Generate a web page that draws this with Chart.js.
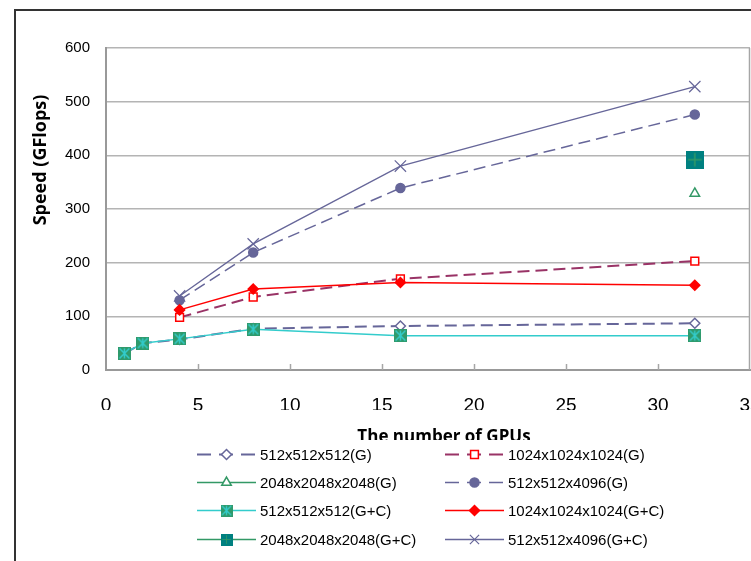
<!DOCTYPE html>
<html>
<head>
<meta charset="utf-8">
<script src="https://cdn.jsdelivr.net/npm/chart.js@4.4.1/dist/chart.umd.min.js"></script>
<style>
  html, body { margin: 0; padding: 0; background: #fff; overflow: hidden; }
  #wrap { width: 751px; height: 561px; position: relative; overflow: hidden; }
</style>
</head>
<body>
<div id="wrap"><canvas id="speedChart" width="770" height="561"></canvas></div>
<script>
// ---- data ----
const gpusAll = [1, 2, 4, 8, 16, 32];
const gpusFrom4 = [4, 8, 16, 32];
const gpusOnly32 = [32];

const speed512G = [31, 50, 57, 77, 82, 87];
const speed1024G = [98, 136, 170, 203];
const speed2048G = [329];
const speed4096G = [130, 219, 339, 476];
const speed512GC = [31, 50, 58, 76, 64, 64];
const speed1024GC = [112, 151, 163, 158];
const speed2048GC = [392];
const speed4096GC = [138, 235, 380, 528];

const seriesLabels = [
    '512x512x512(G)', '1024x1024x1024(G)',
    '2048x2048x2048(G)', '512x512x4096(G)',
    '512x512x512(G+C)', '1024x1024x1024(G+C)',
    '2048x2048x2048(G+C)', '512x512x4096(G+C)'
];
const xTicks = [0, 5, 10, 15, 20, 25, 30, 35];
const yTicks = [0, 100, 200, 300, 400, 500, 600];

const SLATE = '#666699', MAROON = '#993366', GREEN = '#339966',
      CYAN = '#33cccc', RED = '#ff0000', TEAL = '#008080';

// square marker with an asterisk / plus inside (Excel style)
function boxMarker(size, fill, mark, kind) {
    const c = document.createElement('canvas');
    c.width = size; c.height = size;
    const g = c.getContext('2d');
    g.fillStyle = fill;
    g.fillRect(0, 0, size, size);
    g.strokeStyle = mark;
    g.lineWidth = 1.5;
    const m = size / 2, r = size * 0.38;
    g.beginPath();
    g.moveTo(m, m - r); g.lineTo(m, m + r);
    if (kind === 'star') {
        g.moveTo(m - r, m - r); g.lineTo(m + r, m + r);
        g.moveTo(m + r, m - r); g.lineTo(m - r, m + r);
    } else {
        g.moveTo(m - r, m); g.lineTo(m + r, m);
    }
    g.stroke();
    return c;
}
const starBox = boxMarker(13, '#2f9a6c', CYAN, 'star');
const plusBox = boxMarker(18, TEAL, GREEN, 'plus');

const pts = (xs, ys) => xs.map((x, i) => ({ x: x, y: ys[i] }));

function series(label, xs, ys, o) {
    return Object.assign({
        label: label,
        data: pts(xs, ys),
        borderWidth: 1.5,
        borderDash: [],
        pointBorderWidth: 1.5,
        tension: 0,
        fill: false
    }, o);
}

const datasets = [
    series(seriesLabels[0], gpusAll, speed512G, {
        borderColor: SLATE, borderDash: [12, 6], borderWidth: 2,
        pointStyle: 'rectRot', pointRadius: 5,
        pointBackgroundColor: '#fff', pointBorderColor: SLATE, order: 2
    }),
    series(seriesLabels[1], gpusFrom4, speed1024G, {
        borderColor: MAROON, borderDash: [12, 6], borderWidth: 2,
        pointStyle: 'rect', pointRadius: 5.5,
        pointBackgroundColor: '#fff', pointBorderColor: RED, order: 2
    }),
    series(seriesLabels[2], gpusOnly32, speed2048G, {
        borderColor: GREEN,
        pointStyle: 'triangle', pointRadius: 5.5,
        pointBackgroundColor: '#fff', pointBorderColor: GREEN, order: 2
    }),
    series(seriesLabels[3], gpusFrom4, speed4096G, {
        borderColor: SLATE, borderDash: [12, 6], borderWidth: 1.5,
        pointStyle: 'circle', pointRadius: 4.5,
        pointBackgroundColor: SLATE, pointBorderColor: SLATE, order: 2
    }),
    series(seriesLabels[4], gpusAll, speed512GC, {
        borderColor: CYAN,
        pointStyle: starBox, pointRadius: 7,
        pointBackgroundColor: GREEN, pointBorderColor: GREEN, order: 1
    }),
    series(seriesLabels[5], gpusFrom4, speed1024GC, {
        borderColor: RED,
        pointStyle: 'rectRot', pointRadius: 5,
        pointBackgroundColor: RED, pointBorderColor: RED, order: 1
    }),
    series(seriesLabels[6], gpusOnly32, speed2048GC, {
        borderColor: GREEN,
        pointStyle: plusBox, pointRadius: 9,
        pointBackgroundColor: TEAL, pointBorderColor: TEAL, order: 1
    }),
    series(seriesLabels[7], gpusFrom4, speed4096GC, {
        borderColor: SLATE, borderWidth: 1.3,
        pointStyle: 'crossRot', pointRadius: 8, pointBorderWidth: 1.2,
        pointBackgroundColor: SLATE, pointBorderColor: SLATE, order: 1
    })
];

// frame, titles, inside tick marks and the legend
const decorations = {
    id: 'decorations',
    beforeDatasetsDraw(chart) {
        const { ctx, chartArea: a, scales: { x } } = chart;
        ctx.save();
        ctx.strokeStyle = '#a6a6a6';
        ctx.lineWidth = 1.5;
        ctx.beginPath();
        xTicks.slice(1, -1).forEach(v => {
            const px = Math.round(x.getPixelForValue(v)) + 0.5;
            ctx.moveTo(px, a.bottom);
            ctx.lineTo(px, a.bottom - 6);
        });
        ctx.moveTo(a.right - 0.5, a.top);
        ctx.lineTo(a.right - 0.5, a.bottom);
        ctx.stroke();
        ctx.restore();
    },
    afterDraw(chart) {
        const { ctx } = chart;
        ctx.save();
        // outer frame (only top and left visible)
        ctx.strokeStyle = '#333';
        ctx.lineWidth = 2;
        ctx.beginPath();
        ctx.moveTo(15, 562); ctx.lineTo(15, 10); ctx.lineTo(772, 10);
        ctx.stroke();

        // axis titles
        ctx.fillStyle = '#000';
        ctx.font = 'bold 17px "Open Sans", "Noto Sans", sans-serif';
        ctx.textAlign = 'center';
        ctx.textBaseline = 'alphabetic';
        ctx.fillText('The number of GPUs', 444, 442);
        ctx.save();
        ctx.font = 'bold 18px "Open Sans", "Noto Sans", sans-serif';
        ctx.translate(46, 160);
        ctx.rotate(-Math.PI / 2);
        ctx.fillText('Speed (GFlops)', 0, 0);
        ctx.restore();

        // legend box (covers the bottom of the x title as in the original)
        ctx.fillStyle = '#fff';
        ctx.fillRect(185, 440, 510, 122);
        ctx.font = '15px "Liberation Sans", Arial, sans-serif';
        ctx.textAlign = 'left';
        ctx.textBaseline = 'middle';
        chart.data.datasets.forEach((ds, i) => {
            const col = i % 2, row = Math.floor(i / 2);
            const x0 = col ? 445 : 197;
            const y = Math.round(454 + row * 28.2) + 0.5;
            ctx.save();
            ctx.strokeStyle = ds.borderColor;
            ctx.lineWidth = ds.borderWidth;
            ctx.setLineDash(ds.borderDash.length ? [14, 8] : []);
            ctx.beginPath();
            ctx.moveTo(x0, y); ctx.lineTo(x0 + 59, y);
            ctx.stroke();
            ctx.restore();
            const mx = x0 + 29.5;
            if (ds.pointStyle instanceof HTMLCanvasElement) {
                ctx.drawImage(ds.pointStyle, mx - 6, y - 6, 12, 12);
            } else {
                ctx.save();
                ctx.fillStyle = ds.pointBackgroundColor;
                ctx.strokeStyle = ds.pointBorderColor;
                ctx.lineWidth = ds.pointBorderWidth;
                Chart.helpers.drawPoint(ctx, {
                    pointStyle: ds.pointStyle,
                    radius: ds.pointStyle === 'crossRot' ? 6.5 : ds.pointRadius,
                    borderWidth: ds.pointBorderWidth,
                    rotation: 0
                }, mx, y);
                ctx.restore();
            }
            ctx.fillStyle = '#000';
            ctx.fillText(ds.label, x0 + 63, y + 1);
        });
        ctx.restore();
    }
};

new Chart(document.getElementById('speedChart'), {
    type: 'line',
    data: { datasets: datasets },
    plugins: [decorations],
    options: {
        responsive: false,
        animation: false,
        layout: { padding: { left: 0, right: 20, top: 48, bottom: 151 } },
        plugins: { legend: { display: false }, tooltip: { enabled: false } },
        scales: {
            x: {
                type: 'linear',
                min: 0, max: 35,
                afterBuildTicks: s => { s.ticks = xTicks.map(v => ({ value: v })); },
                afterFit: s => { s.height = 40; s.paddingLeft = 0; s.paddingRight = 0; },
                grid: { display: false, drawTicks: false },
                border: { color: '#999', width: 2 },
                ticks: {
                    padding: 24,
                    color: '#000',
                    font: { family: '"Liberation Sans", Arial, sans-serif', size: 19 }
                }
            },
            y: {
                min: 0, max: 600,
                afterBuildTicks: s => { s.ticks = yTicks.map(v => ({ value: v })); },
                afterFit: s => { s.width = 106; },
                grid: { color: '#b4b4b4', lineWidth: 1.5, drawTicks: false },
                border: { color: '#999', width: 2 },
                ticks: {
                    padding: 16,
                    color: '#000',
                    font: { family: '"Liberation Sans", Arial, sans-serif', size: 15 }
                }
            }
        }
    }
});
</script>
</body>
</html>
